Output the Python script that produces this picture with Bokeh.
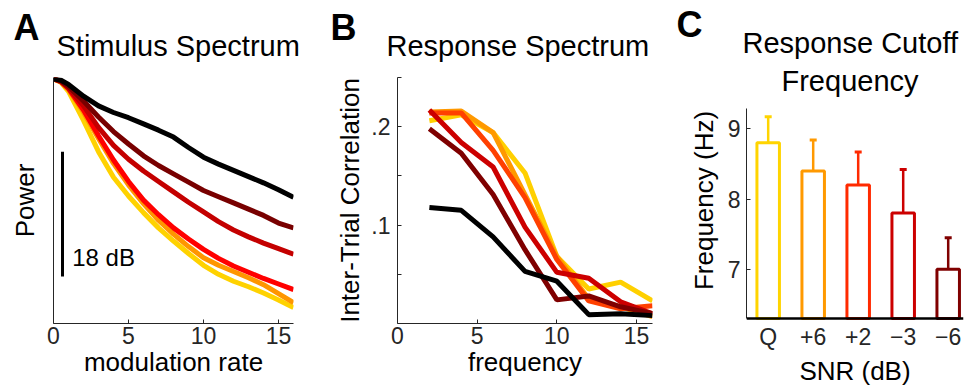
from bokeh.plotting import figure
from bokeh.layouts import row
from bokeh.models import FixedTicker, Title, Span
from bokeh.core.properties import value
from bokeh.embed import file_html
from bokeh.resources import INLINE

FONT = "Liberation Sans"
TEXT_GREY = "#262626"

# ---------------- Panel A: Stimulus Spectrum (power in dB re. peak) ----------------
mod_rate = [0, 0.5, 1, 2, 3, 4, 5, 6, 7, 8, 9, 10, 11, 12, 13, 14, 15, 16]
stim_black = [0, -0.2, -0.8, -2.5, -3.9, -4.85, -5.6, -6.5, -7.4, -8.4, -9.9, -11.3, -12.3, -13.2, -14.1, -15.0, -16.0, -17.1]
stim_maroon = [0, -0.3, -1.1, -3.2, -5.5, -7.6, -9.4, -11.1, -12.5, -13.7, -14.9, -16.1, -17.0, -17.9, -18.8, -19.7, -20.8, -21.5]
stim_darkred = [0, -0.4, -1.3, -3.9, -7.0, -9.6, -11.6, -13.3, -14.8, -16.3, -17.8, -19.2, -20.6, -21.8, -22.8, -23.7, -24.5, -25.3]
stim_red = [0, -0.4, -1.4, -4.5, -8.2, -11.7, -14.8, -17.5, -19.6, -21.5, -23.1, -24.6, -25.9, -27.0, -27.9, -28.8, -29.6, -30.4]
stim_orange = [0, -0.4, -1.5, -4.8, -8.6, -12.2, -15.3, -18.0, -20.4, -22.4, -24.2, -25.8, -26.9, -27.8, -28.7, -29.7, -31.0, -32.3]
stim_yellow = [0, -0.5, -1.8, -6.0, -10.5, -14.2, -16.9, -19.3, -21.5, -23.4, -25.2, -26.9, -28.2, -29.2, -30.0, -30.9, -31.9, -33.0]
stim_series = [stim_yellow, stim_orange, stim_red, stim_darkred, stim_maroon, stim_black]
stim_colors = ["#FFD200", "#FF9600", "#FF0000", "#C40000", "#780000", "#000000"]
scale_bar_db = 18
scale_bar_top = -10.5
scale_bar_x = 0.6

# ---------------- Panel B: Response Spectrum ----------------
freq = [2, 4, 6, 8, 10, 12, 14, 16]
resp_yellow = [0.206, 0.212, 0.194, 0.153, 0.068, 0.035, 0.042, 0.023]
resp_orange = [0.215, 0.216, 0.194, 0.131, 0.068, 0.025, 0.017, 0.007]
resp_redorange = [0.214, 0.214, 0.176, 0.128, 0.065, 0.023, 0.015, 0.018]
resp_red = [0.217, 0.184, 0.159, 0.098, 0.052, 0.046, 0.022, 0.010]
resp_maroon = [0.198, 0.173, 0.131, 0.075, 0.024, 0.028, 0.017, 0.010]
resp_black = [0.118, 0.115, 0.088, 0.053, 0.043, 0.009, 0.010, 0.008]
resp_series = [resp_yellow, resp_orange, resp_redorange, resp_red, resp_maroon, resp_black]
resp_colors = ["#FFD000", "#FF9900", "#FF4000", "#CC0000", "#7F0000", "#000000"]
resp_ticks = [0.05, 0.1, 0.15, 0.2, 0.25]
resp_tick_labels = {0.05: "", 0.1: ".1", 0.15: "", 0.2: ".2", 0.25: ""}

# ---------------- Panel C: Response Cutoff Frequency ----------------
snr_labels = ["Q", "+6", "+2", "\u22123", "\u22126"]
snr_pos = [1, 2, 3, 4, 5]
cutoff_mean = [8.8, 8.4, 8.2, 7.8, 7.0]
cutoff_upper = [9.17, 8.84, 8.67, 8.42, 7.45]
cutoff_colors = ["#FFD400", "#FF9900", "#FF2A00", "#CC0000", "#800000"]
cutoff_axis_min = 6.3
cutoff_axis_max = 9.29


def style(p):
    p.outline_line_color = None
    p.xgrid.visible = False
    p.ygrid.visible = False
    p.background_fill_color = "white"
    p.border_fill_color = "white"
    for ax in p.axis:
        ax.major_label_text_font = FONT
        ax.major_label_text_font_size = "23px"
        ax.major_label_text_color = TEXT_GREY
        ax.axis_label_text_font = FONT
        ax.axis_label_text_font_size = "26px"
        ax.axis_label_text_font_style = "normal"
        ax.axis_label_text_color = "black"
        ax.minor_tick_line_color = None
        ax.major_tick_in = 4
        ax.major_tick_out = 0
        ax.axis_line_color = TEXT_GREY
        ax.major_tick_line_color = TEXT_GREY


def add_title(p, text, size, offset, standoff, bold=False):
    p.add_layout(Title(text=text, align="left", offset=offset, standoff=standoff,
                       vertical_align="bottom", text_font=FONT, text_font_size=size,
                       text_font_style="bold" if bold else "normal", text_color="black"),
                 "above")


COMMON = dict(output_backend="svg", toolbar_location=None, height=388,
              min_border_top=77, min_border_bottom=60)

# ---- A ----
pa = figure(width=330, x_range=(0, 16), y_range=(-35.3, 0.2),
            min_border_left=53, min_border_right=37, **COMMON)
for ys, c in zip(stim_series, stim_colors):
    pa.line(mod_rate, ys, line_color=c, line_width=5)
pa.segment(x0=[scale_bar_x], y0=[scale_bar_top], x1=[scale_bar_x], y1=[scale_bar_top - scale_bar_db],
           line_color="black", line_width=3)
pa.text(x=[1.25], y=[-25.8], text=["%d dB" % scale_bar_db], text_font=value(FONT),
        text_font_size="24px", text_baseline="alphabetic", text_color="black")
pa.xaxis.ticker = FixedTicker(ticks=[0, 5, 10, 15])
pa.yaxis.ticker = FixedTicker(ticks=[])
pa.xaxis.axis_label = "modulation rate"
pa.yaxis.axis_label = "Power"
style(pa)
pa.xaxis.major_label_standoff = 3
pa.xaxis.axis_label_standoff = 0
pa.yaxis.axis_label_standoff = 14
add_title(pa, "Stimulus Spectrum", "29px", 3, 32)
add_title(pa, "A", "36px", -40, -72, bold=True)

# ---- B ----
pb = figure(width=342, x_range=(0, 16), y_range=(0, 0.25),
            min_border_left=67, min_border_right=20, **COMMON)
for ys, c in zip(resp_series, resp_colors):
    pb.line(freq, ys, line_color=c, line_width=5)
pb.xaxis.ticker = FixedTicker(ticks=[0, 5, 10, 15])
pb.yaxis.ticker = FixedTicker(ticks=resp_ticks)
pb.yaxis.major_label_overrides = resp_tick_labels
pb.xaxis.axis_label = "frequency"
pb.yaxis.axis_label = "Inter-Trial Correlation"
style(pb)
pb.xaxis.major_label_standoff = 3
pb.xaxis.axis_label_standoff = 0
pb.yaxis.major_label_standoff = 7
pb.yaxis.axis_label_standoff = 3
add_title(pb, "Response Spectrum", "29px", -11, 32)
add_title(pb, "B", "36px", -67, -72, bold=True)

# ---- C ----
pc = figure(width=292, x_range=(0.518, 5.34), y_range=(6.229, 9.729),
            min_border_left=74, min_border_right=1, **COMMON)
pc.vbar(x=snr_pos, top=cutoff_mean, bottom=cutoff_axis_min, width=0.5, fill_color="white",
        line_color=cutoff_colors, line_width=3)
pc.segment(x0=snr_pos, y0=cutoff_mean, x1=snr_pos, y1=cutoff_upper,
           line_color=cutoff_colors, line_width=2.5)
pc.scatter(x=snr_pos, y=cutoff_upper, marker="dash", size=7, line_width=3,
           line_color=cutoff_colors)
# baseline of the bar axis (the axis minimum)
pc.add_layout(Span(location=cutoff_axis_min, dimension="width", line_color="black", line_width=2.7))
pc.xaxis.ticker = FixedTicker(ticks=snr_pos)
pc.xaxis.major_label_overrides = dict(zip(snr_pos, snr_labels))
pc.yaxis.ticker = FixedTicker(ticks=[7, 8, 9])
pc.xaxis.axis_label = "SNR (dB)"
pc.yaxis.axis_label = "Frequency (Hz)"
style(pc)
pc.yaxis.bounds = (cutoff_axis_min, cutoff_axis_max)
pc.xaxis.axis_line_color = None
pc.xaxis.major_tick_line_color = None
pc.xaxis.major_tick_in = 0
pc.xaxis.major_label_standoff = 0
pc.xaxis.axis_label_standoff = 3
pc.yaxis.major_label_standoff = 6
pc.yaxis.axis_label_standoff = 6
add_title(pc, "Frequency", "29px", 35, -38)
add_title(pc, "Response Cutoff", "29px", -4, 38)
add_title(pc, "C", "36px", -70, -78, bold=True)

layout = row(pa, pb, pc)
open("out.html", "w").write(file_html(layout, INLINE))
